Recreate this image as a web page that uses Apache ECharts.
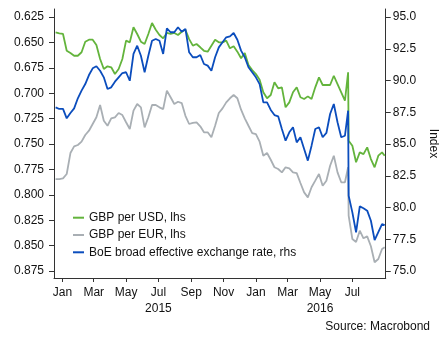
<!DOCTYPE html>
<html><head><meta charset="utf-8">
<script src="https://cdn.jsdelivr.net/npm/echarts@6/dist/echarts.min.js"></script>
<style>html,body{margin:0;padding:0;background:#fff}#c{width:447px;height:346px}</style>
</head><body><div id="c"></div>
<script>
const dates = [
 '2014-12-19','2014-12-26','2015-01-02','2015-01-09','2015-01-16','2015-01-23','2015-01-30','2015-02-06','2015-02-13','2015-02-20',
 '2015-02-27','2015-03-06','2015-03-13','2015-03-20','2015-03-27','2015-04-03','2015-04-10','2015-04-17','2015-04-24','2015-05-01',
 '2015-05-08','2015-05-15','2015-05-22','2015-05-29','2015-06-05','2015-06-12','2015-06-19','2015-06-26','2015-07-03','2015-07-10',
 '2015-07-17','2015-07-24','2015-07-31','2015-08-07','2015-08-14','2015-08-21','2015-08-28','2015-09-04','2015-09-11','2015-09-18',
 '2015-09-25','2015-10-02','2015-10-09','2015-10-16','2015-10-23','2015-10-30','2015-11-06','2015-11-13','2015-11-20','2015-11-27',
 '2015-12-04','2015-12-11','2015-12-18','2015-12-25','2016-01-01','2016-01-08','2016-01-15','2016-01-22','2016-01-29','2016-02-05',
 '2016-02-12','2016-02-19','2016-02-26','2016-03-04','2016-03-11','2016-03-18','2016-03-25','2016-04-01','2016-04-08','2016-04-15',
 '2016-04-22','2016-04-29','2016-05-06','2016-05-13','2016-05-20','2016-05-27','2016-06-03','2016-06-10','2016-06-17','2016-06-23',
 '2016-06-24','2016-07-01','2016-07-08','2016-07-15','2016-07-22','2016-07-29','2016-08-05','2016-08-12','2016-08-19','2016-08-26','2016-08-31'
];
const gbpPerUsd = [
 0.6401,0.6410,0.6417,0.6582,0.6604,0.6631,0.6631,0.6597,0.6493,0.6473,
 0.6473,0.6526,0.6663,0.6762,0.6735,0.6745,0.6811,0.6762,0.6663,0.6483,
 0.6499,0.6351,0.6417,0.6493,0.6516,0.6417,0.6309,0.6375,0.6427,0.6460,
 0.6407,0.6417,0.6407,0.6427,0.6395,0.6375,0.6467,0.6532,0.6516,0.6548,
 0.6582,0.6591,0.6532,0.6473,0.6499,0.6499,0.6483,0.6558,0.6538,0.6591,
 0.6656,0.6604,0.6722,0.6772,0.6811,0.6867,0.6991,0.7050,0.7018,0.6893,
 0.6952,0.6942,0.7139,0.7090,0.6991,0.6942,0.7040,0.7057,0.7031,0.7057,
 0.6942,0.6844,0.6919,0.6919,0.6919,0.6828,0.6910,0.6991,0.7074,0.6794,
 0.7468,0.7517,0.7680,0.7582,0.7599,0.7533,0.7648,0.7729,0.7615,0.7582,0.7615
];
const gbpPerEur = [
 0.7845,0.7845,0.7838,0.7795,0.7589,0.7523,0.7510,0.7477,0.7411,0.7369,
 0.7303,0.7237,0.7116,0.7271,0.7320,0.7247,0.7237,0.7195,0.7215,0.7286,
 0.7352,0.7172,0.7106,0.7139,0.7336,0.7237,0.7116,0.7116,0.7139,0.7156,
 0.6975,0.7040,0.7106,0.7084,0.7097,0.7222,0.7303,0.7293,0.7286,0.7326,
 0.7385,0.7385,0.7434,0.7320,0.7195,0.7149,0.7090,0.7050,0.7018,0.7050,
 0.7162,0.7247,0.7320,0.7392,0.7402,0.7477,0.7615,0.7589,0.7655,0.7729,
 0.7746,0.7779,0.7729,0.7739,0.7779,0.7786,0.7884,0.7976,0.8025,0.7926,
 0.7861,0.7795,0.7911,0.7861,0.7714,0.7615,0.7779,0.7877,0.7877,0.7729,
 0.8206,0.8435,0.8465,0.8353,0.8428,0.8409,0.8507,0.8664,0.8632,0.8534,0.8517
];
const boeIndex = [
 87.89,87.76,87.76,87.02,87.44,87.81,88.60,89.20,89.72,90.43,
 90.96,91.12,90.77,90.25,89.33,89.46,89.91,90.25,90.59,90.65,
 89.98,92.09,92.74,91.95,90.65,91.95,93.13,93.27,93.13,92.09,
 94.11,93.80,93.80,94.19,93.84,94.06,92.22,91.83,91.83,92.01,
 91.30,91.17,90.77,91.83,92.61,93.01,93.40,93.48,93.74,93.21,
 92.35,91.83,91.04,90.65,90.25,89.72,88.28,88.28,87.68,87.28,
 87.18,86.18,85.26,85.92,86.32,85.13,85.53,84.61,83.69,84.87,
 86.18,86.32,85.53,85.87,87.36,88.15,86.71,85.53,85.65,87.62,
 80.93,79.62,78.05,80.09,79.94,79.75,78.96,77.44,78.07,78.70,78.62
];
const seriesNames = ['GBP per USD, lhs','GBP per EUR, lhs','BoE broad effective exchange rate, rhs'];
const seriesColors = ['#63b43c','#a9afb4','#0b4dbd'];
const leftTicks = [0.625,0.650,0.675,0.700,0.725,0.750,0.775,0.800,0.825,0.850,0.875];
const rightTicks = [75,77.5,80,82.5,85,87.5,90,92.5,95];
const monthTicks = ['2015-01-01','2015-03-01','2015-05-01','2015-07-01','2015-09-01','2015-11-01','2016-01-01','2016-03-01','2016-05-01','2016-07-01'];
const monthLabels = ['Jan','Mar','May','Jul','Sep','Nov','Jan','Mar','May','Jul'];
const yearLabels = ['','','','2015','','','','','2016',''];
const xRange = ['2014-12-16','2016-09-02'];

function ts(s){const p=s.split('-').map(Number);return Date.UTC(p[0],p[1]-1,p[2]);}
const tickTs = monthTicks.map(ts);
const font = '"Liberation Sans", Arial, sans-serif';
const txt = '#111';
const axisCol = '#333';

const chart = echarts.init(document.getElementById('c'), null, {renderer:'canvas'});
chart.setOption({
  animation:false,
  textStyle:{fontFamily:font},
  grid:{left:54, right:58, top:9, bottom:68, containLabel:false},
  legend:{
    orient:'vertical', left:73, top:210.7, padding:0, itemWidth:11, itemHeight:2, itemGap:3.3, icon:'rect',
    textStyle:{fontSize:12, color:txt, fontFamily:font, lineHeight:14},
    data:seriesNames
  },
  xAxis:{
    type:'value', min:ts(xRange[0]), max:ts(xRange[1]),
    axisLine:{show:true, lineStyle:{color:axisCol, width:1}},
    axisTick:{show:true, customValues:tickTs, length:4, lineStyle:{color:axisCol}},
    splitLine:{show:false},
    axisLabel:{
      customValues:tickTs, margin:7, fontSize:12, color:txt, fontFamily:font,
      formatter:function(v){
        let best=0,bd=Infinity;
        tickTs.forEach((t,i)=>{const d=Math.abs(t-v); if(d<bd){bd=d;best=i;}});
        return yearLabels[best] ? '{m|'+monthLabels[best]+'}\n{y|'+yearLabels[best]+'}' : '{m|'+monthLabels[best]+'}';
      },
      rich:{m:{fontSize:12,color:txt,fontFamily:font,lineHeight:15.5},y:{fontSize:12,color:txt,fontFamily:font,lineHeight:15.5}}
    }
  },
  yAxis:[
    {type:'value', position:'left', inverse:true, min:0.6171, max:0.8819,
     axisLine:{show:true, lineStyle:{color:axisCol}},
     axisTick:{show:true, customValues:leftTicks, length:5, lineStyle:{color:axisCol}},
     axisLabel:{customValues:leftTicks, formatter:v=>v.toFixed(3), margin:10, fontSize:12, color:txt, fontFamily:font},
     splitLine:{show:false}},
    {type:'value', position:'right', min:74.45, max:95.63,
     name:'Index', nameLocation:'middle', nameGap:29, nameRotate:-90,
     nameTextStyle:{fontSize:12, color:txt, fontFamily:font},
     axisLine:{show:true, lineStyle:{color:axisCol}},
     axisTick:{show:true, customValues:rightTicks, length:5, lineStyle:{color:axisCol}},
     axisLabel:{customValues:rightTicks, formatter:v=>v.toFixed(1), margin:7, fontSize:12, color:txt, fontFamily:font},
     splitLine:{show:false}}
  ],
  series:[
    {name:seriesNames[0], type:'line', yAxisIndex:0, showSymbol:false, color:seriesColors[0],
     lineStyle:{width:1.8, color:seriesColors[0]}, data:dates.map((d,i)=>[ts(d),gbpPerUsd[i]])},
    {name:seriesNames[1], type:'line', yAxisIndex:0, showSymbol:false, color:seriesColors[1],
     lineStyle:{width:1.8, color:seriesColors[1]}, data:dates.map((d,i)=>[ts(d),gbpPerEur[i]])},
    {name:seriesNames[2], type:'line', yAxisIndex:1, showSymbol:false, color:seriesColors[2],
     lineStyle:{width:1.8, color:seriesColors[2]}, data:dates.map((d,i)=>[ts(d),boeIndex[i]])}
  ],
  graphic:[{type:'text', right:17, top:321, style:{text:'Source: Macrobond', font:'12px '+font, fill:txt}}]
});
</script></body></html>
